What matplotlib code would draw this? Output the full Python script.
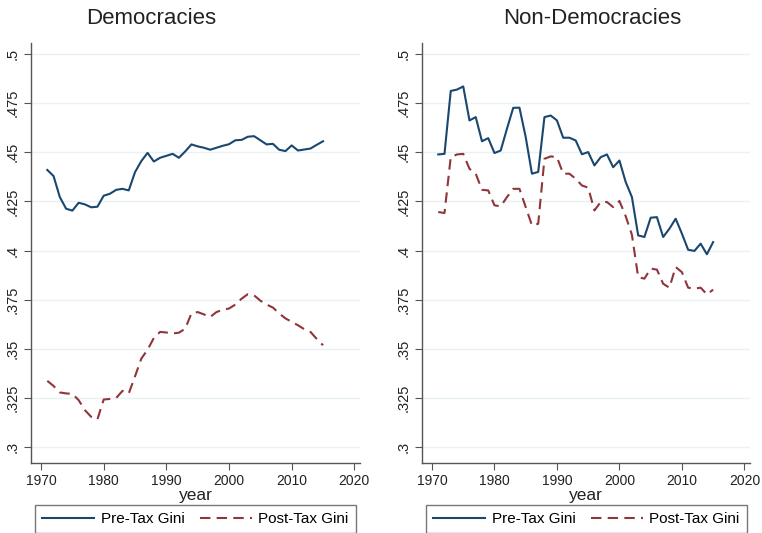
import matplotlib
matplotlib.use("Agg")
import matplotlib.pyplot as plt
import numpy as np

plt.rcParams['font.family'] = ['Liberation Sans', 'DejaVu Sans']

years = list(range(1971, 2016))

# Democracies
dem_pre = [0.4410, 0.4379, 0.4272, 0.4213, 0.4203, 0.4243, 0.4235, 0.4220, 0.4223, 0.4279,
           0.4289, 0.4309, 0.4314, 0.4306, 0.4399, 0.4455, 0.4497, 0.4453, 0.4472, 0.4482,
           0.4492, 0.4472, 0.4504, 0.4540, 0.4530, 0.4523, 0.4513, 0.4523, 0.4533, 0.4541,
           0.4561, 0.4563, 0.4579, 0.4582, 0.4561, 0.4540, 0.4543, 0.4513, 0.4506, 0.4535,
           0.4509, 0.4514, 0.4519, 0.4538, 0.4556]
dem_post = [0.3337, 0.3311, 0.3278, 0.3273, 0.3271, 0.3239, 0.3188, 0.3154, 0.3141, 0.3242,
            0.3245, 0.3250, 0.3286, 0.3273, 0.3360, 0.3450, 0.3495, 0.3555, 0.3586, 0.3583,
            0.3578, 0.3582, 0.3602, 0.3680, 0.3687, 0.3675, 0.3662, 0.3687, 0.3699, 0.3705,
            0.3725, 0.3755, 0.3778, 0.3772, 0.3745, 0.3725, 0.3710, 0.3680, 0.3655, 0.3637,
            0.3620, 0.3600, 0.3586, 0.3550, 0.3518]

# Non-Democracies
non_pre = [0.4489, 0.4492, 0.4812, 0.4819, 0.4835, 0.4662, 0.4679, 0.4556, 0.4572, 0.4496,
           0.4509, 0.4620, 0.4726, 0.4727, 0.4577, 0.4391, 0.4400, 0.4679, 0.4687, 0.4662,
           0.4574, 0.4574, 0.4560, 0.4490, 0.4501, 0.4433, 0.4475, 0.4489, 0.4424, 0.4458,
           0.4349, 0.4272, 0.4077, 0.4069, 0.4167, 0.4170, 0.4069, 0.4111, 0.4162, 0.4086,
           0.4004, 0.3998, 0.4035, 0.3981, 0.4043]
non_post = [0.4196, 0.4191, 0.4475, 0.4489, 0.4492, 0.4416, 0.4391, 0.4309, 0.4306, 0.4230,
            0.4225, 0.4272, 0.4314, 0.4314, 0.4221, 0.4128, 0.4136, 0.4467, 0.4479, 0.4475,
            0.4391, 0.4391, 0.4365, 0.4331, 0.4320, 0.4204, 0.4247, 0.4247, 0.4221, 0.4252,
            0.4175, 0.4080, 0.3865, 0.3857, 0.3908, 0.3903, 0.3831, 0.3811, 0.3916, 0.3890,
            0.3811, 0.3806, 0.3811, 0.3777, 0.3801]

yticks = [0.3, 0.325, 0.35, 0.375, 0.4, 0.425, 0.45, 0.475, 0.5]
ylabels = [".3", ".325", ".35", ".375", ".4", ".425", ".45", ".475", ".5"]
xticks = [1970, 1980, 1990, 2000, 2010, 2020]

NAVY = "#1a476f"
MAROON = "#90353b"
GRID = "#e8f1f3"
AXC = "#555555"

fig = plt.figure(figsize=(7.62, 5.33), dpi=100)
ax1 = fig.add_axes([31/762, 1-463/533, 329/762, 420/533])
ax2 = fig.add_axes([422/762, 1-463/533, 328/762, 420/533])

panels = [(ax1, dem_pre, dem_post, "Democracies", 151),
          (ax2, non_pre, non_post, "Non-Democracies", 592)]

for ax, pre, post, title, tx in panels:
    ax.plot(years, pre, color=NAVY, lw=1.5, label="Pre-Tax Gini")
    ax.plot(years, post, color=MAROON, lw=1.5, dashes=(5, 3), label="Post-Tax Gini")
    ax.set_xlim(1968.4, 2020.9)
    ax.set_ylim(0.2919, 0.5056)
    ax.set_yticks(yticks)
    ax.set_yticklabels(ylabels, rotation=90, va="center", fontsize=10.5, color="#222222")
    ax.set_xticks(xticks)
    ax.set_xticklabels([str(x) for x in xticks], fontsize=10, color="#222222")
    ax.grid(axis="y", color=GRID, lw=1.0)
    ax.set_axisbelow(True)
    for s in ["top", "right"]:
        ax.spines[s].set_visible(False)
    for s in ["left", "bottom"]:
        ax.spines[s].set_color(AXC)
        ax.spines[s].set_linewidth(1.0)
    ax.tick_params(direction="out", length=5, color=AXC, pad=3)
    ax.set_xlabel("year", fontsize=12.5, labelpad=0, color="#222222")
    fig.text(tx/762, 1-19/533, title, fontsize=16, ha="center", va="center", color="#222222")
    leg = ax.legend(loc="upper left", bbox_to_anchor=(0.012, -0.1), ncol=2, fontsize=11,
                    frameon=True, fancybox=False, handlelength=3.4, handletextpad=0.45,
                    borderpad=0.45, columnspacing=1.0, borderaxespad=0)
    leg.get_frame().set_edgecolor(AXC)
    leg.get_frame().set_linewidth(1.0)

fig.savefig("out.png", dpi=100)
